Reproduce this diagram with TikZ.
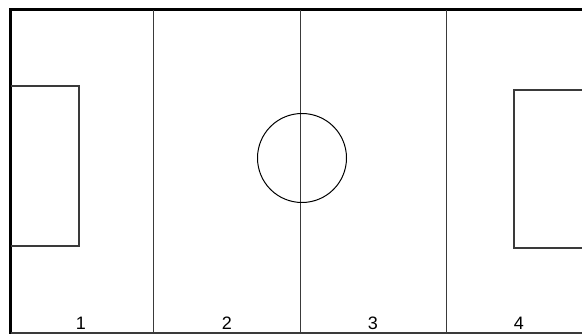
\documentclass[tikz,border=0pt]{standalone}
\usepackage{fontspec}
\setmainfont{Liberation Sans}
\usetikzlibrary{positioning}
\definecolor{pitchline}{HTML}{3A3A3A}

\begin{document}
\begin{tikzpicture}[x=1pt, y=-1pt, font=\fontsize{18}{21}\selectfont]
    \useasboundingbox (0,0) rectangle (582,334);

    % Outer border (top and left heavy, bottom thin)
    \draw[line width=3pt, line cap=rect] (10.5,333) -- (10.5,10) -- (582,10);
    \draw[line width=1.2pt, pitchline] (10.5,333) -- (582,333);

    % Zone lines
    \foreach \x in {153, 300, 446}{
        \draw[line width=0.9pt, pitchline] (\x,10) -- (\x,333);
    }

    % Centre circle
    \draw[line width=1pt] (302,158) circle (44.5);

    % Penalty boxes
    \draw[line width=1.2pt, pitchline] (11,86) -- (79,86) -- (79,246) -- (11,246);
    \draw[line width=1.2pt, pitchline] (582,90) -- (514,90) -- (514,248) -- (582,248);

    % Zone numbers
    \foreach \n/\x in {1/81, 2/227, 3/373, 4/519}{
        \node[anchor=base, inner sep=0pt] (zone\n) at (\x,330) {\n};
    }
\end{tikzpicture}
\end{document}
